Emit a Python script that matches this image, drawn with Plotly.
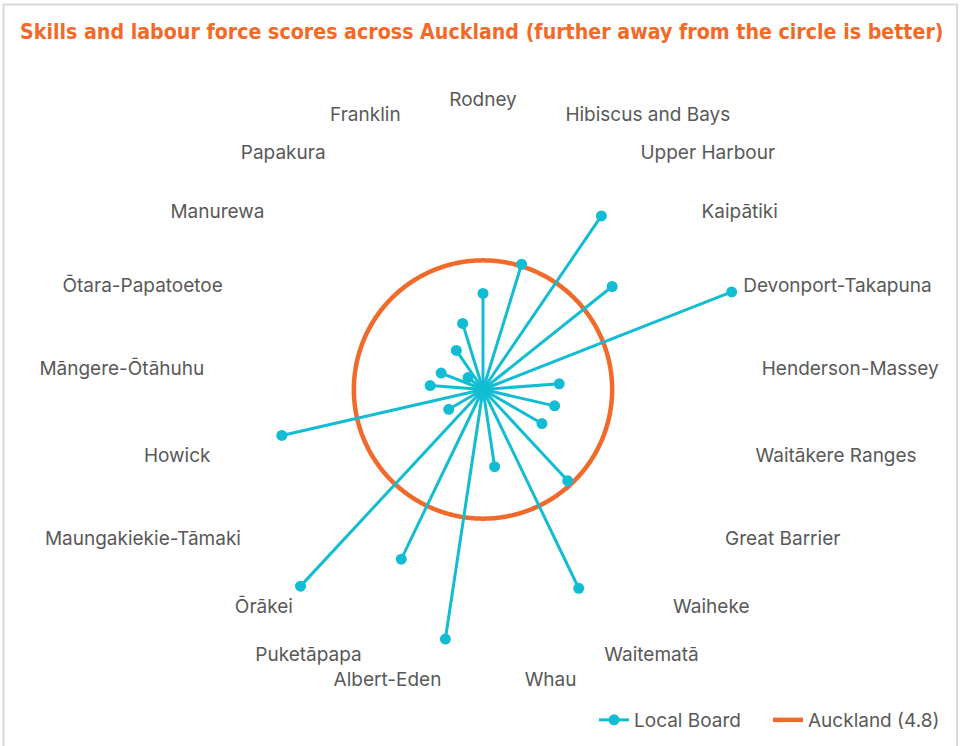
import numpy as np
import plotly.graph_objects as go

boards = ["Rodney", "Hibiscus and Bays", "Upper Harbour", "Kaipātiki", "Devonport-Takapuna",
          "Henderson-Massey", "Waitākere Ranges", "Great Barrier", "Waiheke", "Waitematā",
          "Whau", "Albert-Eden", "Puketāpapa", "Ōrākei", "Maungakiekie-Tāmaki", "Howick",
          "Māngere-Ōtāhuhu", "Ōtara-Papatoetoe", "Manurewa", "Papakura", "Franklin"]
scores = [3.57, 4.87, 7.81, 6.14, 9.93, 2.84, 2.73, 2.53, 4.63, 8.2,
          2.9, 9.38, 7.0, 9.97, 1.47, 7.67, 1.97, 1.67, 0.71, 1.76, 2.57]
auckland = 4.8
r_max = 10.37

CYAN = "#12BDD3"
ORANGE = "#F26A2A"
GRAY = "#595959"

n = len(boards)
angles = [i * 360.0 / n for i in range(n)]

# spokes from the centre to each board's score
sp_r, sp_t = [], []
for a, v in zip(angles, scores):
    sp_r += [0, v, None]
    sp_t += [a, a, None]

fig = go.Figure()
circ_t = np.linspace(0, 360, 721)
fig.add_trace(go.Scatterpolar(
    r=[auckland] * len(circ_t), theta=circ_t, mode="lines",
    line=dict(color=ORANGE, width=4.5), name="Auckland (4.8)", hoverinfo="skip"))
fig.add_trace(go.Scatterpolar(
    r=sp_r, theta=sp_t, mode="lines+markers", line=dict(color=CYAN, width=3),
    marker=dict(color=CYAN, size=11), name="Local Board", connectgaps=False))

W, H = 965, 746
cx, cy, R = 483, 389.5, 279
fig.update_layout(
    width=W, height=H,
    margin=dict(l=0, r=0, t=0, b=0),
    paper_bgcolor="white",
    font=dict(family="Inter, Noto Sans, sans-serif", size=19, color=GRAY),
    title=dict(text="Skills and labour force scores across Auckland (further away from the circle is better)",
               x=20 / W, xanchor="left", y=1 - 32 / H, yanchor="middle",
               font=dict(family="DejaVu Sans Condensed, sans-serif",
                         size=21.2, color=ORANGE, weight="bold")),
    polar=dict(
        domain=dict(x=[(cx - R) / W, (cx + R) / W], y=[(H - cy - R) / H, (H - cy + R) / H]),
        bgcolor="white",
        radialaxis=dict(range=[0, r_max], visible=False, showgrid=False),
        angularaxis=dict(rotation=90, direction="clockwise", tickmode="array",
                         tickvals=angles, ticktext=boards, showgrid=False, showline=False,
                         ticks="", tickfont=dict(size=19, color=GRAY)),
    ),
    legend=dict(orientation="h", x=594 / W, xanchor="left", y=1 - 720 / H, yanchor="middle",
                entrywidth=129, entrywidthmode="pixels",
                traceorder="reversed", font=dict(size=19, color=GRAY)),
    shapes=[dict(type="rect", xref="paper", yref="paper", x0=3.5 / W, x1=957 / W,
                 y0=-0.05, y1=1 - 4.5 / H, line=dict(color="#D9D9D9", width=2), layer="below")],
)
fig.write_html("out.html", config={"displayModeBar": False},
               post_script="document.body.style.margin='0';")
